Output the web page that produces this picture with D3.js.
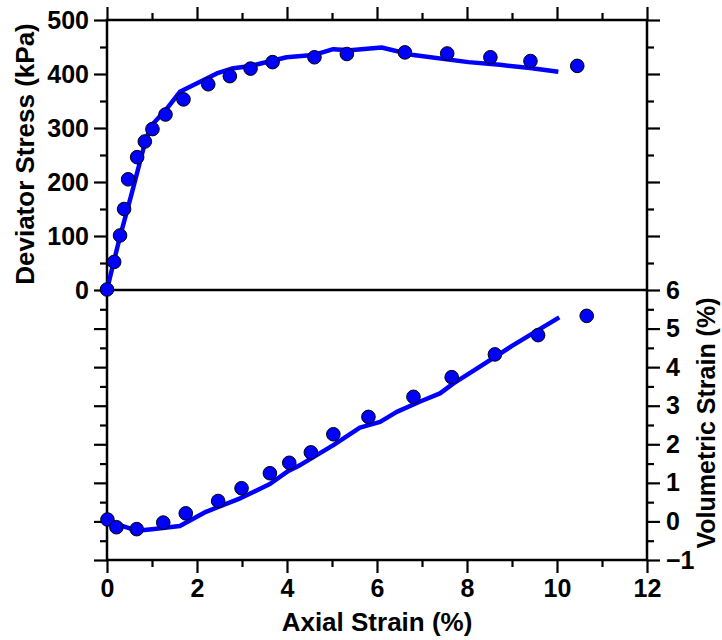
<!DOCTYPE html>
<html><head><meta charset="utf-8">
<script src="https://cdn.jsdelivr.net/npm/d3@7"></script>
<style>
html,body{margin:0;padding:0;background:#fff;}
svg text{font-family:"Liberation Sans",Arial,sans-serif;font-weight:bold;fill:#000;}
</style></head>
<body><svg id="c" width="722" height="640"></svg>
<script>
// Deviator stress: measured points
const stressPtX = [0, 0.16, 0.29, 0.38, 0.47, 0.67, 0.84, 1.01, 1.3, 1.7, 2.25, 2.73, 3.19, 3.68, 4.61, 5.33, 6.62, 7.56, 8.52, 9.41, 10.45];
const stressPtY = [1, 52, 101, 150, 205, 246, 275, 298, 325, 353, 381, 396, 410, 422, 431, 437, 440, 438, 431, 424, 415];
// Deviator stress: model line
const stressLnX = [0, 0.14, 0.29, 0.55, 0.81, 0.96, 1.33, 1.62, 2.44, 2.77, 3.19, 3.99, 4.58, 5.03, 5.4, 6.1, 6.81, 8.03, 8.73, 9.4, 10.03];
const stressLnY = [0, 49, 99, 179, 262, 302, 336, 367, 401, 410, 415, 431, 435, 446, 444, 449, 435, 422, 417, 411, 404];
// Volumetric strain: measured points
const volPtX = [0.01, 0.21, 0.66, 1.25, 1.75, 2.47, 2.99, 3.62, 4.05, 4.53, 5.03, 5.81, 6.81, 7.66, 8.62, 9.58, 10.66];
const volPtY = [0.05, -0.15, -0.2, -0.03, 0.21, 0.53, 0.86, 1.25, 1.52, 1.79, 2.26, 2.71, 3.23, 3.74, 4.33, 4.83, 5.33];
// Volumetric strain: model line
const volLnX = [0, 0.3, 0.66, 1.0, 1.62, 2.2, 2.96, 3.62, 4.03, 4.29, 5.03, 5.62, 6.07, 6.44, 6.96, 7.4, 7.7, 8.2, 9.0, 10.05];
const volLnY = [0, -0.1, -0.24, -0.2, -0.12, 0.25, 0.6, 0.97, 1.31, 1.46, 1.98, 2.43, 2.58, 2.84, 3.11, 3.32, 3.58, 3.95, 4.55, 5.29];
// Tick values
const xTicks = [0, 2, 4, 6, 8, 10, 12];
const xMinor = [1, 3, 5, 7, 9, 11];
const stressTicks = [0, 100, 200, 300, 400, 500];
const stressMinor = [50, 150, 250, 350, 450];
const volTicks = [-1, 0, 1, 2, 3, 4, 5, 6];
const volMinor = [-0.5, 0.5, 1.5, 2.5, 3.5, 4.5, 5.5];

const svg = d3.select("#c");
const L = 107, R = 647, T = 20, B = 560, MID = 290;
const x = d3.scaleLinear().domain([0, 12]).range([L, R]);
const yS = d3.scaleLinear().domain([0, 500]).range([MID, T]);
const yV = d3.scaleLinear().domain([-1, 6]).range([B, MID]);
const FS = 25, MAJ = 13, MIN = 7;

function styleAxis(g) {
  g.select(".domain").remove();
  g.selectAll(".tick line").attr("stroke", "#000").attr("stroke-width", 2.2);
  g.selectAll(".tick text").style("font-size", FS + "px");
}
// bottom axis
svg.append("g").attr("transform", `translate(0,${B})`)
  .call(d3.axisBottom(x).tickValues(xTicks).tickSize(MAJ).tickPadding(6).tickFormat(d3.format("d"))).call(styleAxis);
svg.append("g").attr("transform", `translate(0,${B})`)
  .call(d3.axisBottom(x).tickValues(xMinor).tickSize(MIN).tickFormat("")).call(styleAxis);
// top axis
svg.append("g").attr("transform", `translate(0,${T})`)
  .call(d3.axisTop(x).tickValues(xTicks).tickSize(MAJ).tickFormat("")).call(styleAxis);
svg.append("g").attr("transform", `translate(0,${T})`)
  .call(d3.axisTop(x).tickValues(xMinor).tickSize(MIN).tickFormat("")).call(styleAxis);
// left axis: stress (top panel), labelled
svg.append("g").attr("transform", `translate(${L},0)`)
  .call(d3.axisLeft(yS).tickValues(stressTicks).tickSize(MAJ).tickPadding(5).tickFormat(d3.format("d"))).call(styleAxis);
svg.append("g").attr("transform", `translate(${L},0)`)
  .call(d3.axisLeft(yS).tickValues(stressMinor).tickSize(MIN).tickFormat("")).call(styleAxis);
// left axis: volumetric mirror (lower panel), unlabelled
svg.append("g").attr("transform", `translate(${L},0)`)
  .call(d3.axisLeft(yV).tickValues(volTicks.filter(d => d < 6)).tickSize(MAJ).tickFormat("")).call(styleAxis);
svg.append("g").attr("transform", `translate(${L},0)`)
  .call(d3.axisLeft(yV).tickValues(volMinor).tickSize(MIN).tickFormat("")).call(styleAxis);
// right axis: stress mirror (top panel), unlabelled
svg.append("g").attr("transform", `translate(${R},0)`)
  .call(d3.axisRight(yS).tickValues(stressTicks.filter(d => d > 0)).tickSize(MAJ).tickFormat("")).call(styleAxis);
svg.append("g").attr("transform", `translate(${R},0)`)
  .call(d3.axisRight(yS).tickValues(stressMinor).tickSize(MIN).tickFormat("")).call(styleAxis);
// right axis: volumetric, labelled
svg.append("g").attr("transform", `translate(${R},0)`)
  .call(d3.axisRight(yV).tickValues(volTicks).tickSize(MAJ).tickPadding(6).tickFormat(d3.format("d"))).call(styleAxis);
svg.append("g").attr("transform", `translate(${R},0)`)
  .call(d3.axisRight(yV).tickValues(volMinor).tickSize(MIN).tickFormat("")).call(styleAxis);

// frame and divider
svg.append("rect").attr("x", L).attr("y", T).attr("width", R - L).attr("height", B - T)
  .attr("fill", "none").attr("stroke", "#000").attr("stroke-width", 2.5);
svg.append("line").attr("x1", L).attr("x2", R).attr("y1", yS(0)).attr("y2", yS(0))
  .attr("stroke", "#000").attr("stroke-width", 2.5);

// lines
const blue = "#0000ff";
const lineS = d3.line().x(d => x(d[0])).y(d => yS(d[1]));
const lineV = d3.line().x(d => x(d[0])).y(d => yV(d[1]));
svg.append("path").datum(d3.zip(stressLnX, stressLnY)).attr("d", lineS)
  .attr("fill", "none").attr("stroke", blue).attr("stroke-width", 4.5).attr("stroke-linejoin", "round");
svg.append("path").datum(d3.zip(volLnX, volLnY)).attr("d", lineV)
  .attr("fill", "none").attr("stroke", blue).attr("stroke-width", 4.5).attr("stroke-linejoin", "round");

// points
svg.append("g").selectAll("circle").data(d3.zip(stressPtX, stressPtY)).join("circle")
  .attr("cx", d => x(d[0])).attr("cy", d => yS(d[1])).attr("r", 6.8)
  .attr("fill", blue).attr("stroke", "#000").attr("stroke-width", 1);
svg.append("g").selectAll("circle").data(d3.zip(volPtX, volPtY)).join("circle")
  .attr("cx", d => x(d[0])).attr("cy", d => yV(d[1])).attr("r", 6.8)
  .attr("fill", blue).attr("stroke", "#000").attr("stroke-width", 1);

// titles
svg.append("text").attr("x", (L + R) / 2).attr("y", 631).attr("text-anchor", "middle")
  .style("font-size", "26px").text("Axial Strain (%)");
svg.append("text").attr("transform", `translate(34,154) rotate(-90)`).attr("text-anchor", "middle")
  .style("font-size", "26px").text("Deviator Stress (kPa)");
svg.append("text").attr("transform", `translate(715,${(MID + B) / 2 - 2}) rotate(-90)`).attr("text-anchor", "middle")
  .style("font-size", "25px").text("Volumetric Strain (%)");
</script></body></html>
